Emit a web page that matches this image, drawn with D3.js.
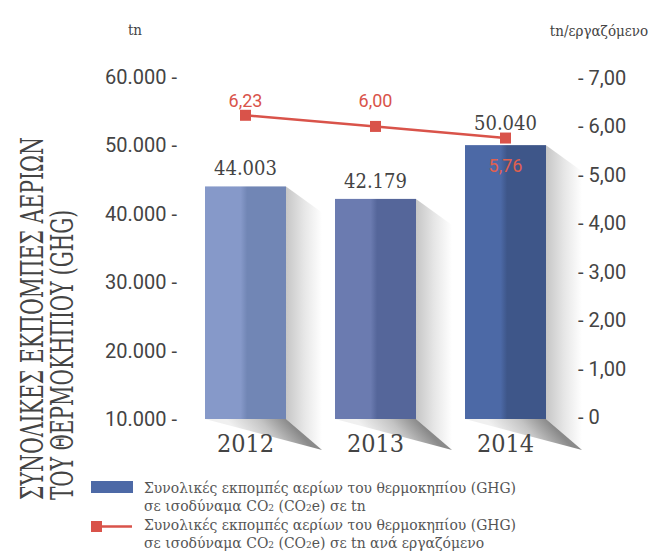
<!DOCTYPE html>
<html>
<head>
<meta charset="utf-8">
<script src="https://cdn.jsdelivr.net/npm/d3@7"></script>
<style>
  html, body { margin: 0; padding: 0; background: #fff; }
  svg { display: block; }
</style>
</head>
<body>
<script>
// ---- data ----
const years = ["2012", "2013", "2014"];
const totals = [44003, 42179, 50040];
const perEmployee = [6.23, 6.00, 5.76];
const leftTicks = [10000, 20000, 30000, 40000, 50000, 60000];
const rightTicks = [0, 1, 2, 3, 4, 5, 6, 7];
const barColorsLeft = ["#8699c9", "#6b7bb0", "#4c69a6"];
const barColorsRight = ["#7186b5", "#55669a", "#3e5689"];
const titleLines = ["ΣΥΝΟΛΙΚΕΣ ΕΚΠΟΜΠΕΣ ΑΕΡΙΩΝ", "ΤΟΥ ΘΕΡΜΟΚΗΠΙΟΥ (GHG)"];
const leftUnit = "tn";
const rightUnit = "tn/εργαζόμενο";

const W = 662, H = 553;
const slab = "'DejaVu Serif Condensed', 'DejaVu Serif', serif";
const sans = "Roboto, 'Noto Sans', sans-serif";
const red = "#d9534a";
const textCol = "#444";

const gr = d3.formatLocale({decimal: ",", thousands: ".", grouping: [3], currency: ["", "€"]});
const fmtInt = gr.format(",d");
const fmt2 = gr.format(",.2f");

const svg = d3.select("body").append("svg").attr("width", W).attr("height", H);
const defs = svg.append("defs");

const x = d3.scaleBand().domain(years).range([180.5, 570.5]).paddingInner(0.377).paddingOuter(0.1885);
const yL = d3.scaleLinear().domain([10000, 60000]).range([419, 77]);
const yR = d3.scaleLinear().domain([0, 7]).range([417, 78]);

const data = years.map((y, i) => ({year: y, total: totals[i], pe: perEmployee[i], i}));
const base = yL(10000);
const sw = 36;

// shadows
data.forEach(d => {
  const bx = x(d.year), bw = x.bandwidth(), top = yL(d.total);
  const gs = defs.append("linearGradient").attr("id", "sg" + d.i)
    .attr("gradientUnits", "userSpaceOnUse")
    .attr("x1", bx + bw).attr("x2", bx + bw + sw).attr("y1", 0).attr("y2", 0);
  gs.append("stop").attr("offset", 0).attr("stop-color", "#c6c6c6");
  gs.append("stop").attr("offset", 0.5).attr("stop-color", "#e6e6e6");
  gs.append("stop").attr("offset", 1).attr("stop-color", "#ffffff");
  svg.append("path")
    .attr("d", `M${bx + bw},${top} L${bx + bw + sw},${top + 26} L${bx + bw + sw},${base + 31} L${bx + bw},${base} Z`)
    .attr("fill", `url(#sg${d.i})`);
  const gb = defs.append("linearGradient").attr("id", "bg" + d.i)
    .attr("gradientUnits", "userSpaceOnUse")
    .attr("x1", bx + bw).attr("y1", base).attr("x2", bx + bw * 0.6).attr("y2", base + 30);
  gb.append("stop").attr("offset", 0).attr("stop-color", "#8a8a8a");
  gb.append("stop").attr("offset", 0.45).attr("stop-color", "#c4c4c4");
  gb.append("stop").attr("offset", 1).attr("stop-color", "#f0f0f0");
  svg.append("path")
    .attr("d", `M${bx},${base} L${bx + bw},${base} L${bx + bw + sw},${base + 31} Z`)
    .attr("fill", `url(#bg${d.i})`);
});

// bars
data.forEach(d => {
  const g = defs.append("linearGradient").attr("id", "bar" + d.i)
    .attr("x1", 0).attr("x2", 1).attr("y1", 0).attr("y2", 0);
  g.append("stop").attr("offset", 0).attr("stop-color", barColorsLeft[d.i]);
  g.append("stop").attr("offset", 0.44).attr("stop-color", barColorsLeft[d.i]);
  g.append("stop").attr("offset", 0.52).attr("stop-color", barColorsRight[d.i]);
  g.append("stop").attr("offset", 1).attr("stop-color", barColorsRight[d.i]);
});
svg.selectAll("rect.bar").data(data).join("rect").attr("class", "bar")
  .attr("x", d => x(d.year)).attr("width", x.bandwidth())
  .attr("y", d => yL(d.total)).attr("height", d => base - yL(d.total))
  .attr("fill", d => `url(#bar${d.i})`);

// bar value labels
svg.selectAll("text.val").data(data).join("text").attr("class", "val")
  .attr("x", d => x(d.year) + x.bandwidth() / 2)
  .attr("y", d => yL(d.total) - (d.i === 2 ? 15 : 11))
  .attr("text-anchor", "middle").attr("font-family", slab).attr("font-size", 20)
  .attr("fill", textCol).text(d => fmtInt(d.total));

// year labels
svg.selectAll("text.yr").data(data).join("text").attr("class", "yr")
  .attr("x", d => x(d.year) + x.bandwidth() / 2).attr("y", 452)
  .attr("text-anchor", "middle").attr("font-family", slab).attr("font-size", 25)
  .attr("fill", textCol).text(d => d.year);

// line
const cx = d => x(d.year) + x.bandwidth() / 2;
svg.append("path").datum(data)
  .attr("d", d3.line().x(cx).y(d => yR(d.pe)))
  .attr("fill", "none").attr("stroke", red).attr("stroke-width", 2.5);
svg.selectAll("rect.mk").data(data).join("rect").attr("class", "mk")
  .attr("x", d => cx(d) - 5.5).attr("y", d => yR(d.pe) - 5.5)
  .attr("width", 11).attr("height", 11).attr("fill", red);
svg.selectAll("text.pe").data(data).join("text").attr("class", "pe")
  .attr("x", cx)
  .attr("y", d => d.i === 2 ? yR(d.pe) + 34 : 107)
  .attr("text-anchor", "middle").attr("font-family", sans).attr("font-size", 18)
  .attr("fill", d => d.i === 2 ? "#e0604f" : red).text(d => fmt2(d.pe));

// left axis
svg.selectAll("text.lt").data(leftTicks).join("text").attr("class", "lt")
  .attr("x", 177).attr("y", d => yL(d)).attr("dy", "0.35em")
  .attr("text-anchor", "end").attr("font-family", sans).attr("font-size", 20)
  .attr("fill", textCol).text(d => fmtInt(d) + " -");

// right axis
svg.selectAll("text.rt").data(rightTicks).join("text").attr("class", "rt")
  .attr("x", 578).attr("y", d => yR(d)).attr("dy", "0.35em")
  .attr("text-anchor", "start").attr("font-family", sans).attr("font-size", 20)
  .attr("fill", textCol).text(d => "- " + (d === 0 ? "0" : fmt2(d)));

// units
svg.append("text").attr("x", 135).attr("y", 35).attr("text-anchor", "middle")
  .attr("font-family", slab).attr("font-size", 15).attr("fill", textCol).text(leftUnit);
svg.append("text").attr("x", 599).attr("y", 36).attr("text-anchor", "middle")
  .attr("font-family", slab).attr("font-size", 15).attr("fill", textCol).text(rightUnit);

// vertical title
const tl = [363, 290];
titleLines.forEach((t, i) => {
  svg.append("text")
    .attr("transform", `translate(${i === 0 ? 43 : 73},500) rotate(-90)`)
    .attr("font-family", slab).attr("font-size", 31).attr("fill", textCol)
    .attr("textLength", tl[i]).attr("lengthAdjust", "spacingAndGlyphs")
    .text(t);
});

// legend
svg.append("rect").attr("x", 91).attr("y", 481).attr("width", 42).attr("height", 12).attr("fill", "#4d69a6");
svg.append("line").attr("x1", 96).attr("x2", 132).attr("y1", 526.5).attr("y2", 526.5)
  .attr("stroke", red).attr("stroke-width", 2.5);
svg.append("rect").attr("x", 91).attr("y", 521).attr("width", 11).attr("height", 11).attr("fill", red);

const legLines = [
  [{t: "Συνολικές εκπομπές αερίων του θερμοκηπίου (GHG)"}],
  [{t: "σε ισοδύναμα CO"}, {t: "2", s: 1}, {t: " (CO"}, {t: "2", s: 1}, {t: "e) σε tn"}],
  [{t: "Συνολικές εκπομπές αερίων του θερμοκηπίου (GHG)"}],
  [{t: "σε ισοδύναμα CO"}, {t: "2", s: 1}, {t: " (CO"}, {t: "2", s: 1}, {t: "e) σε tn ανά εργαζόμενο"}]
];
const legY = [493, 511, 530, 548];
legLines.forEach((parts, i) => {
  const t = svg.append("text").attr("x", 144).attr("y", legY[i])
    .attr("font-family", slab).attr("font-size", 15.5).attr("fill", "#555");
  parts.forEach(p => {
    t.append("tspan").attr("font-size", p.s ? 10 : null).text(p.t);
  });
});
</script>
</body>
</html>
